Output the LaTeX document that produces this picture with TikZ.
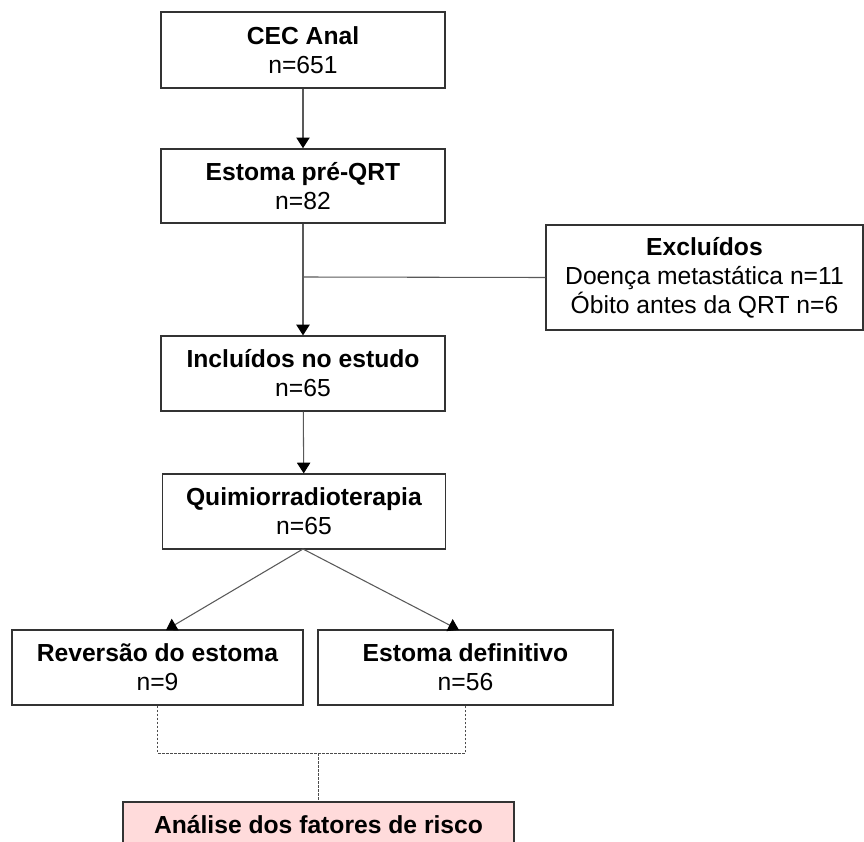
\documentclass[tikz,border=0pt]{standalone}
\usepackage{fontspec}
\setmainfont{Liberation Sans}
\usetikzlibrary{arrows.meta}
\begin{document}
\begin{tikzpicture}[x=0.75pt,y=-0.75pt,
  box/.style={draw=black!80,line width=1.2pt,rectangle,align=center,inner sep=0pt,
    font=\fontsize{18.5}{21.75}\selectfont},
  conn/.style={draw=black!65,line width=0.8pt},
  arr/.style={conn,-{Triangle[width=10pt,length=8pt,black]}},
  dashline/.style={draw=black!70,line width=0.6pt,dash pattern=on 2pt off 1pt}]
\useasboundingbox (0,0) rectangle (864,842);
\clip (0,0) rectangle (864,842);
\node[box,minimum width=213pt,minimum height=57pt] (cec) at (303,50) {\textbf{CEC Anal}\\n=651};
\node[box,minimum width=213pt,minimum height=55.5pt] (pre) at (303,186) {\textbf{Estoma pré-QRT}\\n=82};
\node[box,minimum width=213pt,minimum height=56pt] (inc) at (303,373.5) {\textbf{Incluídos no estudo}\\n=65};
\node[box,minimum width=212pt,minimum height=56pt] (qrt) at (304,511.5) {\textbf{Quimiorradioterapia}\\n=65};
\node[box,minimum width=237.5pt,minimum height=78.5pt] (exc) at (704.5,277.5) {\textbf{Excluídos}\\Doença metastática n=11\\Óbito antes da QRT n=6};
\node[box,minimum width=218pt,minimum height=56pt] (rev) at (157.5,667.5) {\textbf{Reversão do estoma}\\n=9};
\node[box,minimum width=221pt,minimum height=56pt] (def) at (465.5,667.5) {\textbf{Estoma definitivo}\\n=56};
\node[box,fill=red!14!white,anchor=north,minimum width=293pt,minimum height=56pt] (ana) at (318.5,801) {\textbf{Análise dos fatores de risco}\\ \phantom{n}};
\coordinate (j) at (303,277);
\coordinate (dl) at (157.5,753);
\coordinate (dr) at (465.5,753);
\coordinate (dm) at (318.5,753);
\draw[arr] (cec) -- (pre);
\draw[arr] (pre) -- (inc);
\draw[conn] (j) -- (exc.west);
\draw[arr] (inc) -- (qrt);
\draw[arr] (303,549) -- (166,630);
\draw[arr] (303,549) -- (459,630);
\draw[dashline] (rev.south) -- (dl) -- (dr) -- (def.south);
\draw[dashline] (dm) -- (ana.north);
\end{tikzpicture}
\end{document}
